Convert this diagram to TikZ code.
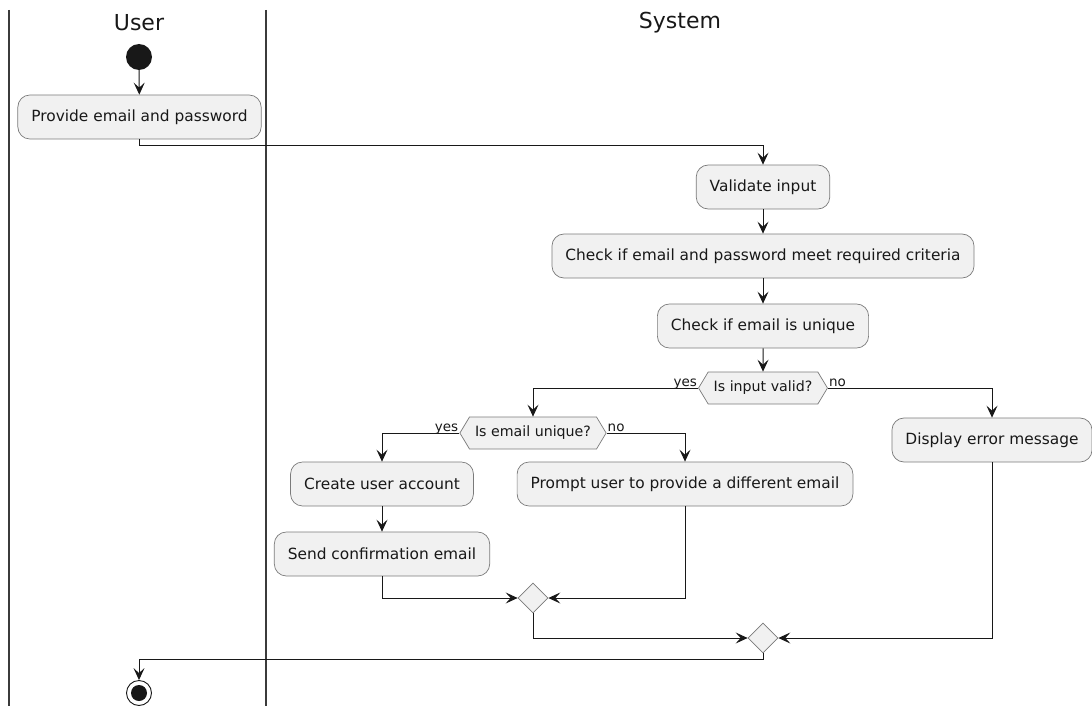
\documentclass[tikz,border=0pt]{standalone}
\usepackage{fontspec}
\setmainfont{DejaVu Sans}
\usetikzlibrary{arrows.meta,shapes.geometric,shapes.symbols}
\definecolor{actfill}{HTML}{F1F1F1}
\definecolor{ink}{HTML}{181818}
\definecolor{edge}{HTML}{7A7A7A}
\tikzset{
  >={Stealth[length=12pt,width=11pt,inset=5pt]},
  lane/.style={draw=ink!85,line width=1.4pt},
  title/.style={font=\fontsize{22}{26}\selectfont,text=ink,inner sep=0pt},
  act/.style={draw=edge,line width=0.7pt,fill=actfill,rounded corners=12pt,
    minimum height=44pt,inner xsep=13.5pt,inner ysep=0pt,
    font=\fontsize{15.4}{18}\selectfont,text=ink},
  dec/.style={shape=signal,signal to=east and west,signal pointer angle=118,
    draw=edge,line width=0.7pt,fill=actfill,minimum height=32pt,
    inner xsep=5.5pt,inner ysep=0pt,font=\fontsize{14.2}{17}\selectfont,text=ink},
  merge/.style={shape=diamond,draw=edge,line width=0.7pt,fill=actfill,
    minimum width=30pt,minimum height=30pt,inner sep=0pt},
  startnode/.style={circle,fill=ink,minimum size=26pt,inner sep=0pt},
  endnode/.style={circle,draw=ink,line width=0.9pt,fill=white,minimum size=25pt,inner sep=0pt},
  lbl/.style={font=\fontsize{13.5}{16}\selectfont,text=ink,inner sep=1pt},
  flow/.style={draw=ink,line width=1pt,->},
}
\begin{document}
\begin{tikzpicture}[x=1pt,y=-1pt]
\useasboundingbox (0,0) rectangle (1092,706);

% swimlane borders and headers
\draw[lane] (9,10) -- (9,706);
\draw[lane] (266,10) -- (266,706);
\node[title] (tuser) at (139,23) {User};
\node[title] (tsys) at (680,23) {System};

% activities
\node[startnode] (start) at (139,57) {};
\node[act] (prov) at (139.5,117) {Provide email and password};
\node[act] (val) at (763,187) {Validate input};
\node[act] (crit) at (763,256) {Check if email and password meet required criteria};
\node[act] (uniq) at (763,326) {Check if email is unique};
\node[dec] (dec1) at (763,388) {Is input valid?};
\node[act] (err) at (992,440) {Display error message};
\node[dec] (dec2) at (533,433) {Is email unique?};
\node[act] (create) at (382,484) {Create user account};
\node[act] (prompt) at (685,484) {Prompt user to provide a different email};
\node[act] (send) at (382,554) {Send confirmation email};
\node[merge] (m1) at (533,598) {};
\node[merge] (m2) at (763,638) {};
\node[endnode] (stop) at (139,693) {};
\fill[ink] (stop.center) circle (8);

% control flow
\draw[flow] (start) -- (prov);
\draw[flow] (prov.south) -- ++(0,6) -| (val.north);
\draw[flow] (val) -- (crit);
\draw[flow] (crit) -- (uniq);
\draw[flow] (uniq) -- (dec1);
\draw[flow] (dec1.west) -| (dec2.north);
\draw[flow] (dec1.east) -| (err.north);
\draw[flow] (dec2.west) -| (create.north);
\draw[flow] (dec2.east) -| (prompt.north);
\draw[flow] (create) -- (send);
\draw[flow] (send.south) |- (m1.west);
\draw[flow] (prompt.south) |- (m1.east);
\draw[flow] (m1.south) |- (m2.west);
\draw[flow] (err.south) |- (m2.east);
\draw[flow] (m2.south) -- ++(0,6) -| (stop.north);

% branch labels
\node[lbl,anchor=base east,yshift=2pt] (y1) at (dec1.west) {yes};
\node[lbl,anchor=base west,yshift=2pt] (n1) at (dec1.east) {no};
\node[lbl,anchor=base east,yshift=2pt] (y2) at (dec2.west) {yes};
\node[lbl,anchor=base west,yshift=2pt] (n2) at (dec2.east) {no};
\end{tikzpicture}
\end{document}
